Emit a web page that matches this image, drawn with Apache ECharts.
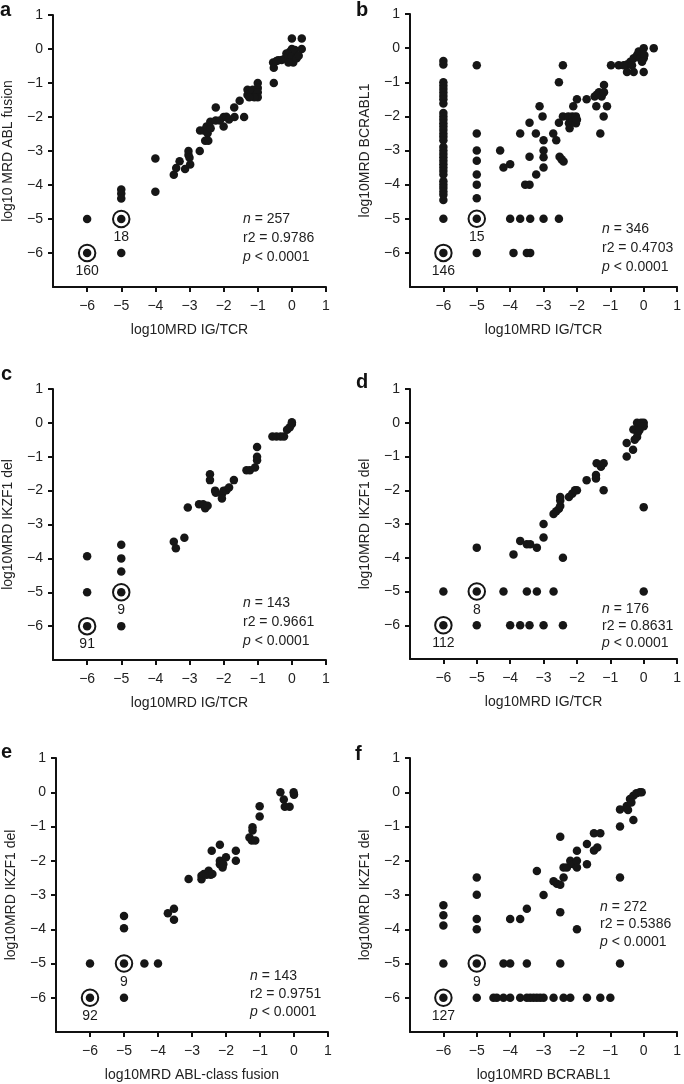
<!DOCTYPE html>
<html>
<head>
<meta charset="utf-8">
<script src="https://cdn.jsdelivr.net/npm/echarts@6/dist/echarts.min.js"></script>
<style>
html,body{margin:0;padding:0;background:#fff;}
#chart{width:684px;height:1084px;}
</style>
</head>
<body>
<div id="chart"></div>
<script>
// ---------- DATA ----------
const panelLetters = ['a','b','c','d','e','f'];
const xNames = ['log10MRD IG/TCR','log10MRD IG/TCR','log10MRD IG/TCR','log10MRD IG/TCR','log10MRD ABL-class fusion','log10MRD BCRABL1'];
const yNames = ['log10 MRD ABL fusion','log10MRD BCRABL1','log10MRD IKZF1 del','log10MRD IKZF1 del','log10MRD IKZF1 del','log10MRD IKZF1 del'];
const nValues = [257, 346, 143, 176, 143, 272];
const r2Values = ['0.9786','0.4703','0.9661','0.8631','0.9751','0.5386'];
const pText = '< 0.0001';
const tickValues = [-6,-5,-4,-3,-2,-1,0,1];
// counts at the circled points [-6,-6] and [-5,-5]
const circledPoints = [[-6,-6],[-5,-5]];
const circledCounts = [[160,18],[146,15],[91,9],[112,8],[92,9],[127,9]];

const pointsA = [[-6,-6],[-6,-5],[-5,-5],[-5,-6],[-5,-4.13],[-5,-4.25],[-5,-4.4],[-4,-4.2],[-4,-3.22],
[-3.46,-3.7],[-3.39,-3.5],[-3.29,-3.3],[-3.13,-3.53],[-3.03,-3.0],[-3.03,-3.12],[-3,-3.2],[-2.98,-3.4],
[-2.7,-3.0],[-2.69,-2.4],[-2.58,-2.4],[-2.5,-2.28],[-2.47,-2.48],[-2.54,-2.7],[-2.45,-2.7],[-2.38,-2.33],[-2.39,-2.14],
[-2.23,-2.1],[-2.23,-1.72],[-2.11,-2.1],[-2.0,-2.0],[-2.0,-2.28],[-1.92,-1.99],[-1.84,-2.07],[-1.69,-1.72],[-1.68,-2.0],
[-1.53,-1.52],[-1.4,-2.0],[-1.3,-1.2],[-1.3,-1.35],[-1.2,-1.35],[-1.15,-1.2],[-1.05,-1.35],[-1.0,-1.0],[-1.0,-1.15],
[-1.0,-1.27],[-1.0,-1.42],[-1.1,-1.42],[-1.25,-1.42],[-0.53,-1.0],[-0.55,-0.4],[-0.53,-0.55],[-0.4,-0.33],[-0.3,-0.32],
[-0.2,-0.28],[-0.16,-0.13],[-0.1,-0.22],[-0.06,-0.08],[0,0],[0,-0.22],[0.04,-0.4],[0.09,-0.03],[0.14,-0.27],[0,0.31],
[0.29,0.31],[0.29,0],[-0.1,-0.4],[0.2,-0.2],[-0.45,-0.35]];

const pointsB = [[-6,-0.38],[-6,-0.48],[-6,-1.0],[-6,-1.1],[-6,-1.2],[-6,-1.3],[-6,-1.4],[-6,-1.5],[-6,-1.62],
[-6,-1.9],[-6,-2.0],[-6,-2.1],[-6,-2.2],[-6,-2.3],[-6,-2.4],[-6,-2.5],[-6,-2.6],[-6,-2.7],[-6,-2.9],[-6,-3.0],
[-6,-3.1],[-6,-3.2],[-6,-3.3],[-6,-3.4],[-6,-3.5],[-6,-3.6],[-6,-3.7],[-6,-3.9],[-6,-4.0],[-6,-4.1],[-6,-4.2],
[-6,-4.3],[-6,-4.45],[-6,-5],[-6,-6],
[-5,-0.5],[-5,-2.5],[-5,-3.0],[-5,-3.3],[-5,-3.7],[-5,-4.0],[-5,-4.4],[-5,-5],[-5,-6],
[-4.3,-3.0],[-4.2,-3.5],[-4.0,-3.4],[-4,-5],[-3.9,-6],[-3.7,-5],[-3.7,-2.5],[-3.55,-4.0],[-3.42,-4.0],[-3.5,-6],
[-3.4,-6],[-3.4,-5],[-3.42,-2.19],[-3.42,-3.18],[-3.23,-2.5],[-3.22,-3.7],[-3.12,-1.7],[-3.03,-2.0],[-3,-2.7],
[-3,-3],[-3,-3.2],[-3,-3.5],[-3,-5],[-2.71,-2.5],[-2.62,-2.7],[-2.54,-5],[-2.54,-1.0],[-2.54,-2.19],[-2.52,-3.18],
[-2.46,-3.26],[-2.4,-3.32],[-2.42,-0.5],[-2.42,-2.0],[-2.26,-2.0],[-2.24,-2.2],[-2.22,-2.35],[-2.14,-2.0],[-2.12,-2.15],
[-2.03,-2.0],[-2.03,-2.2],[-2.0,-2.1],[-2.11,-1.7],[-2.0,-1.5],[-1.71,-1.5],[-1.47,-1.42],[-1.4,-1.36],[-1.34,-1.29],
[-1.26,-1.42],[-1.19,-1.08],[-1.19,-1.29],[-1.42,-1.7],[-1.2,-2.0],[-1.1,-1.7],[-1.3,-2.5],
[-0.98,-0.5],[-0.75,-0.5],[-0.5,-0.7],[-0.3,-0.7],[0,-0.7],[-0.5,-0.48],[-0.4,-0.4],[-0.3,-0.3],[-0.2,-0.2],
[-0.15,-0.1],[-0.1,-0.3],[0,0],[0,-0.3],[0.02,-0.2],[-0.05,-0.4],[0.3,0],[-0.35,-0.5],[-0.6,-0.5]];

const pointsC = [[-6,-3.94],[-6,-5],[-6,-6],[-5,-3.6],[-5,-4.0],[-5,-4.39],[-5,-5],[-5,-6],
[-3.46,-3.51],[-3.4,-3.7],[-3.15,-3.39],[-3.05,-2.5],[-2.72,-2.4],[-2.6,-2.4],[-2.54,-2.52],[-2.47,-2.45],
[-2.4,-1.52],[-2.4,-1.69],[-2.25,-2.0],[-2.23,-2.06],[-2.05,-2.1],[-2.05,-2.23],[-2.0,-2.0],[-1.92,-1.99],
[-1.84,-1.91],[-1.7,-1.69],[-1.33,-1.4],[-1.23,-1.4],[-1.08,-1.32],[-1.02,-1.1],[-1.02,-1.0],[-1.02,-0.71],
[-0.57,-0.4],[-0.45,-0.4],[-0.33,-0.4],[-0.23,-0.4],[-0.14,-0.2],[-0.06,-0.13],[0,-0.03],[0,0.02]];

const pointsD = [[-6,-5],[-6,-6],[-5,-3.7],[-5,-5],[-5,-6],[-4.2,-5],[-3.9,-3.9],[-4.0,-6],[-3.7,-3.5],[-3.7,-6],
[-3.5,-3.6],[-3.4,-3.6],[-3.5,-5],[-3.42,-6],[-3.2,-3.7],[-3.2,-5],[-3.0,-3.0],[-3.0,-3.4],[-3.0,-6],[-2.7,-5],
[-2.7,-2.7],[-2.62,-2.62],[-2.54,-2.55],[-2.5,-2.47],[-2.5,-2.3],[-2.5,-2.2],[-2.42,-4.0],[-2.42,-6],
[-2.24,-2.2],[-2.14,-2.1],[-2.06,-2.0],[-2.0,-2.0],[-1.71,-1.7],[-1.43,-1.55],[-1.43,-1.65],[-1.41,-1.2],
[-1.28,-1.3],[-1.2,-1.2],[-1.2,-2.0],[-0.51,-0.6],[-0.51,-1.0],[-0.32,-0.8],[-0.31,-0.2],[-0.27,-0.5],
[-0.2,-0.42],[-0.18,-0.3],[-0.2,0],[-0.13,-0.05],[-0.08,0],[0,0],[0,-0.1],[-0.13,-0.22],[0,-2.5],[0,-5]];

const pointsE = [[-6,-5],[-6,-6],[-5,-3.61],[-5,-3.97],[-5,-5],[-5,-6],[-4.4,-5],[-4,-5],[-3.71,-3.53],
[-3.53,-3.4],[-3.53,-3.72],[-3.1,-2.53],[-2.72,-2.44],[-2.72,-2.54],[-2.65,-2.39],[-2.57,-2.41],[-2.51,-2.29],
[-2.45,-2.41],[-2.4,-2.39],[-2.42,-1.71],[-2.18,-1.53],[-2.18,-2.0],[-2.18,-2.1],[-2.1,-2.2],[-2.08,-2.1],
[-2.0,-1.9],[-1.71,-1.71],[-1.71,-2.0],[-1.31,-1.32],[-1.24,-1.41],[-1.14,-1.41],[-1.22,-1.02],[-1.22,-1.12],
[-1.01,-0.41],[-1.01,-0.71],[-0.4,0],[-0.3,-0.21],[-0.27,-0.42],[-0.13,-0.42],[-0.01,0],[0,-0.07]];

const pointsF = [[-6,-3.3],[-6,-3.59],[-6,-3.89],[-6,-5],[-6,-6],[-5,-2.49],[-5,-2.99],[-5,-3.7],[-5,-4.0],
[-5,-5],[-5,-6],[-4.5,-6],[-4.4,-6],[-4.2,-6],[-4.0,-6],[-4.2,-5],[-4.0,-5],[-4.0,-3.7],[-3.7,-3.7],
[-3.7,-6],[-3.5,-6],[-3.4,-6],[-3.3,-6],[-3.2,-6],[-3.1,-6],[-3.0,-6],[-3.5,-5],[-3.5,-3.4],[-3.2,-2.3],
[-3.0,-3.0],[-2.7,-6],[-2.7,-2.6],[-2.6,-2.67],[-2.5,-1.3],[-2.5,-2.7],[-2.5,-3.5],[-2.5,-5],[-2.4,-6],
[-2.2,-6],[-2.4,-2.49],[-2.4,-2.2],[-2.3,-2.2],[-2.2,-2.0],[-2.1,-2.1],[-2.0,-2.0],[-2.0,-2.2],[-2.0,-1.71],
[-2.0,-4.0],[-1.7,-1.51],[-1.7,-2.1],[-1.7,-6],[-1.49,-1.7],[-1.39,-1.61],[-1.49,-1.2],[-1.3,-1.2],
[-1.3,-6],[-1.0,-6],[-0.71,-0.5],[-0.71,-1.0],[-0.71,-2.49],[-0.71,-5.0],[-0.51,-0.4],[-0.47,-0.52],
[-0.31,-0.81],[-0.41,-0.2],[-0.31,-0.1],[-0.22,-0.03],[-0.12,0],[-0.06,0],[-0.37,-0.3]];

const allPoints = [pointsA, pointsB, pointsC, pointsD, pointsE, pointsF];

// ---------- LAYOUT (pixels) ----------
const grids = [
  {left:53, top:15, width:273, height:272},
  {left:410, top:14, width:272, height:273},
  {left:53, top:389, width:273, height:271},
  {left:410, top:389, width:272, height:270},
  {left:56, top:758, width:272, height:274},
  {left:410, top:758, width:272, height:274}
];
const letterPos = [[0,0],[356,0],[1,364],[356,372],[1,742],[355,744]];
const statPos = [[243,210,19],[602,219.5,19],[243,593.5,19],[602,601,17],[250,967,18],[600,898,17.5]];

const FONT = '"Liberation Sans", Arial, Helvetica, sans-serif';
const fmt = v => (v < 0 ? '\u2212' + Math.abs(v) : String(v));

const option = {
  animation: false,
  backgroundColor: '#fff',
  textStyle: {fontFamily: FONT, color: '#000'},
  grid: grids.map(g => Object.assign({containLabel:false}, g)),
  xAxis: grids.map((g, i) => ({
    gridIndex: i, type: 'value', min: -7, max: 1, interval: 1,
    splitLine: {show:false},
    axisLine: {show:true, onZero:false, lineStyle:{color:'#111', width:2}},
    axisTick: {show:true, length:5, lineStyle:{color:'#111', width:2}, customValues: tickValues},
    axisLabel: {fontSize:14, color:'#222', margin:12, fontFamily: FONT, formatter: fmt, customValues: tickValues},
    name: xNames[i], nameLocation: 'middle', nameGap: 36,
    nameTextStyle: {fontSize:14, color:'#222', fontFamily: FONT}
  })),
  yAxis: grids.map((g, i) => ({
    gridIndex: i, type: 'value', min: -7, max: 1, interval: 1,
    splitLine: {show:false},
    axisLine: {show:true, onZero:false, lineStyle:{color:'#111', width:2}},
    axisTick: {show:true, length:5, lineStyle:{color:'#111', width:2}, customValues: tickValues},
    axisLabel: {fontSize:14, color:'#222', margin:10, fontFamily: FONT, formatter: fmt, customValues: tickValues},
    name: yNames[i], nameLocation: 'middle', nameGap: 38, nameRotate: 90,
    nameTextStyle: {fontSize:14, color:'#222', fontFamily: FONT}
  })),
  title: [].concat(
    panelLetters.map((l, i) => ({
      text: l, left: letterPos[i][0], top: letterPos[i][1], padding: 0,
      textStyle: {fontSize:20, fontWeight:'bold', color:'#111', fontFamily: FONT}
    })),
    statPos.map((p, i) => ({
      text: '{i|n} = ' + nValues[i] + '\nr2 = ' + r2Values[i] + '\n{i|p} ' + pText,
      left: p[0], top: p[1], padding: 0,
      textStyle: {fontSize:14, fontWeight:'normal', color:'#222', fontFamily: FONT, lineHeight: p[2],
        rich: {i: {fontStyle:'italic', fontSize:14, color:'#222', fontFamily: FONT, lineHeight: p[2]}}}
    }))
  ),
  series: [].concat(
    allPoints.map((pts, i) => ({
      type: 'scatter', xAxisIndex: i, yAxisIndex: i, data: pts,
      symbol: 'circle', symbolSize: 8.5,
      itemStyle: {color:'#161616', opacity:1}, silent: true, z: 2
    })),
    allPoints.map((pts, i) => ({
      type: 'scatter', xAxisIndex: i, yAxisIndex: i,
      data: circledPoints.map((c, k) => [c[0], c[1], circledCounts[i][k]]),
      symbol: 'circle', symbolSize: 16.5,
      itemStyle: {color:'rgba(255,255,255,0)', borderColor:'#161616', borderWidth:2, opacity:1},
      label: {show:true, position:'bottom', distance:2, fontSize:14, color:'#1a1a1a', opacity:1,
        textBorderWidth:0, fontFamily: FONT, formatter: p => String(p.value[2])},
      silent: true, z: 3
    }))
  )
};

const chart = echarts.init(document.getElementById('chart'), null, {renderer:'canvas'});
chart.setOption(option);
</script>
</body>
</html>
